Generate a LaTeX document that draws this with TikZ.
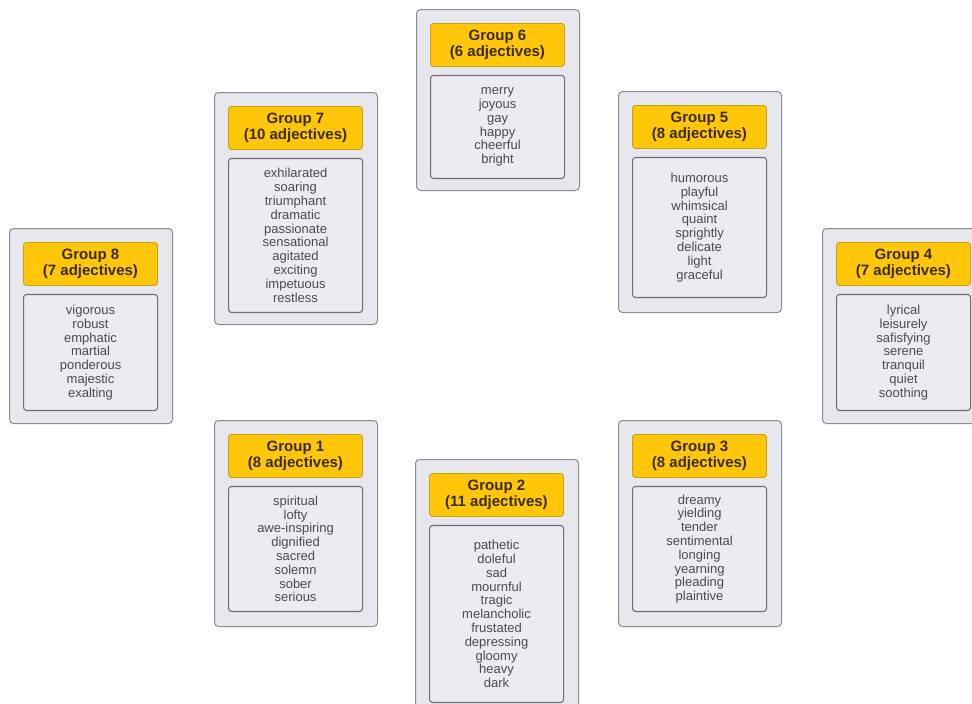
\documentclass[tikz,border=0pt]{standalone}
\usepackage{fontspec}
\setmainfont{Liberation Sans}
\definecolor{outerfill}{HTML}{E7E7EE}
\definecolor{outerline}{HTML}{8C8C92}
\definecolor{innerfill}{HTML}{EBEBF1}
\definecolor{innerline}{HTML}{6E6E74}
\definecolor{headfill}{HTML}{FFC60A}
\definecolor{headline}{HTML}{C9A010}
\definecolor{headtext}{HTML}{3A2C05}
\definecolor{bodytext}{HTML}{4A4A50}
\tikzset{
  outerbox/.style={draw=outerline, fill=outerfill, line width=1pt, rounded corners=4pt,
    minimum width=163pt, inner sep=0pt, anchor=north west},
  headbox/.style={draw=headline, fill=headfill, line width=0.9pt, rounded corners=3pt,
    minimum width=134pt, minimum height=43pt, inner sep=0pt, anchor=north west, align=center,
    text=headtext, font=\fontsize{15}{15.7}\selectfont\bfseries},
  innerbox/.style={draw=innerline, fill=innerfill, line width=1.1pt, rounded corners=3pt,
    minimum width=134pt, inner sep=0pt, anchor=north west, align=center,
    text=bodytext, font=\fontsize{13}{13.8}\selectfont},
}
\newcommand\grpbox[7]{%
  \node[outerbox, minimum height=#4] (#1) at (#2,#3) {};
  \node[headbox] (#1h) at ([xshift=14pt,yshift=-14pt]#1.north west) {#6};
  \node[innerbox, minimum height=#5] (#1b) at ([yshift=-8pt]#1h.south west) {#7};
}
\begin{document}
\begin{tikzpicture}[x=1pt,y=-1pt]
\useasboundingbox (0,0) rectangle (972,704);
\fill[white] (0,0) rectangle (972,704);
\clip (0,0) rectangle (972,704);
\grpbox{g6}{416}{9}{181pt}{103pt}{Group 6\\(6 adjectives)}{merry\\joyous\\gay\\happy\\cheerful\\bright}
\grpbox{g7}{214}{92}{232pt}{154pt}{Group 7\\(10 adjectives)}{exhilarated\\soaring\\triumphant\\dramatic\\passionate\\sensational\\agitated\\exciting\\impetuous\\restless}
\grpbox{g8}{9}{228}{195pt}{116pt}{Group 8\\(7 adjectives)}{vigorous\\robust\\emphatic\\martial\\ponderous\\majestic\\exalting}
\grpbox{g5}{618}{91}{221pt}{140pt}{Group 5\\(8 adjectives)}{humorous\\playful\\whimsical\\quaint\\sprightly\\delicate\\light\\graceful}
\grpbox{g4}{822}{228}{195pt}{116pt}{Group 4\\(7 adjectives)}{lyrical\\leisurely\\safisfying\\serene\\tranquil\\quiet\\soothing}
\grpbox{g1}{214}{420}{206pt}{125pt}{Group 1\\(8 adjectives)}{spiritual\\lofty\\awe-inspiring\\dignified\\sacred\\solemn\\sober\\serious}
\grpbox{g3}{618}{420}{206pt}{125pt}{Group 3\\(8 adjectives)}{dreamy\\yielding\\tender\\sentimental\\longing\\yearning\\pleading\\plaintive}
\grpbox{g2}{415}{459}{260pt}{177pt}{Group 2\\(11 adjectives)}{pathetic\\doleful\\sad\\mournful\\tragic\\melancholic\\frustated\\depressing\\gloomy\\heavy\\dark}
\end{tikzpicture}
\end{document}
